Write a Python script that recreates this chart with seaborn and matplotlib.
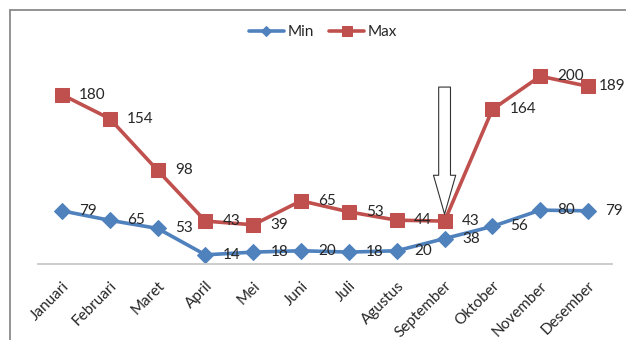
import matplotlib
matplotlib.use("Agg")
import matplotlib.pyplot as plt
from matplotlib.lines import Line2D
from matplotlib.transforms import ScaledTranslation
import seaborn as sns
import pandas as pd

bulan = ["Januari", "Februari", "Maret", "April", "Mei", "Juni", "Juli",
         "Agustus", "September", "Oktober", "November", "Desember"]
nilai_min = [79, 65, 53, 14, 18, 20, 18, 20, 38, 56, 80, 79]
nilai_max = [180, 154, 98, 43, 39, 65, 53, 44, 43, 164, 200, 189]

BLUE = "#4F81BD"
RED = "#C0504D"
TEXT = "#262626"
FS = 11

sns.set_theme(style="white")
plt.rcParams["font.family"] = ["Lato", "DejaVu Sans"]

df = pd.DataFrame({"pos": range(len(bulan)), "Bulan": bulan,
                   "Min": nilai_min, "Max": nilai_max})

W, H = 626, 340
fig = plt.figure(figsize=(W / 100, H / 100), dpi=100)
fig.patch.set_facecolor("white")

# plot area: category axis at the bottom, no value axis shown
ax = fig.add_axes([38 / W, 1 - 264.3 / H, 574 / W, 224.3 / H])
ax2 = ax.twinx()

sns.lineplot(data=df, x="pos", y="Min", ax=ax, color=BLUE, marker="D",
             markersize=8, markeredgecolor=BLUE, linewidth=2.6,
             sort=False, label="Min")
sns.lineplot(data=df, x="pos", y="Max", ax=ax2, color=RED, marker="s",
             markersize=10, markeredgecolor=RED, linewidth=2.6,
             sort=False, label="Max")

ax.set_xlim(-0.5, len(bulan) - 0.5)
ax.set_ylim(0, 331.3)
ax2.set_ylim(-3.8, 239.2)

for a in (ax, ax2):
    a.set_facecolor("none")
    a.set_ylabel("")
    a.set_yticks([])
    for s in a.spines.values():
        s.set_visible(False)
ax.set_xlabel("")
ax.spines["bottom"].set_visible(True)
ax.spines["bottom"].set_color("#C8C8C8")
ax.spines["bottom"].set_linewidth(1.3)

ax.set_xticks(df["pos"])
ax.set_xticklabels(bulan)
ax.tick_params(axis="x", length=0, pad=14, labelsize=FS, labelcolor=TEXT)
shift = ScaledTranslation(5 / 100, 0, fig.dpi_scale_trans)
for lab in ax.get_xticklabels():
    lab.set_rotation(45)
    lab.set_ha("right")
    lab.set_va("center")
    lab.set_rotation_mode("anchor")
    lab.set_transform(lab.get_transform() + shift)

last = len(bulan) - 1

# value labels to the right of each marker
for p, v in zip(df["pos"], nilai_min):
    ax.annotate(str(v), xy=(p, v), xytext=(12.5, 0), textcoords="offset points",
                ha="left", va="center", fontsize=FS, color=TEXT)
for p, v in zip(df["pos"], nilai_max):
    dx = 12.5 if p < last else 8
    ax2.annotate(str(v), xy=(p, v), xytext=(dx, 0), textcoords="offset points",
                 ha="left", va="center", fontsize=FS, color=TEXT)

# hollow arrow pointing at the September maximum
sep = bulan.index("September")
ax2.annotate("", xy=(sep, nilai_max[sep]), xytext=(0, 96.5),
             textcoords="offset points",
             arrowprops=dict(arrowstyle="simple,head_length=2.8,head_width=1.6,tail_width=0.85",
                             mutation_scale=10, fc="white", ec="#333333",
                             lw=0.8, shrinkA=0, shrinkB=5))

# single legend on top
h1, l1 = ax.get_legend_handles_labels()
h2, l2 = ax2.get_legend_handles_labels()
for a in (ax, ax2):
    if a.get_legend() is not None:
        a.get_legend().remove()
leg = fig.legend(h1 + h2, l1 + l2, loc="center", ncol=2,
                 bbox_to_anchor=(323 / W, 1 - 32 / H), frameon=False,
                 fontsize=FS, handlelength=2.3, handletextpad=0.25,
                 columnspacing=1.0, numpoints=1)
for t in leg.get_texts():
    t.set_color(TEXT)
leg.legend_handles[0].set_markersize(5.5)
leg.legend_handles[1].set_markersize(7)

# outer frame (top and left edges)
fx = 9.5 / W
fy = 1 - 9.5 / H
fig.add_artist(Line2D([fx, 1], [fy, fy], transform=fig.transFigure,
                      color="#8A8A8A", lw=1.3))
fig.add_artist(Line2D([fx, fx], [0, fy], transform=fig.transFigure,
                      color="#8A8A8A", lw=1.3))

fig.savefig("out.png", dpi=100)
